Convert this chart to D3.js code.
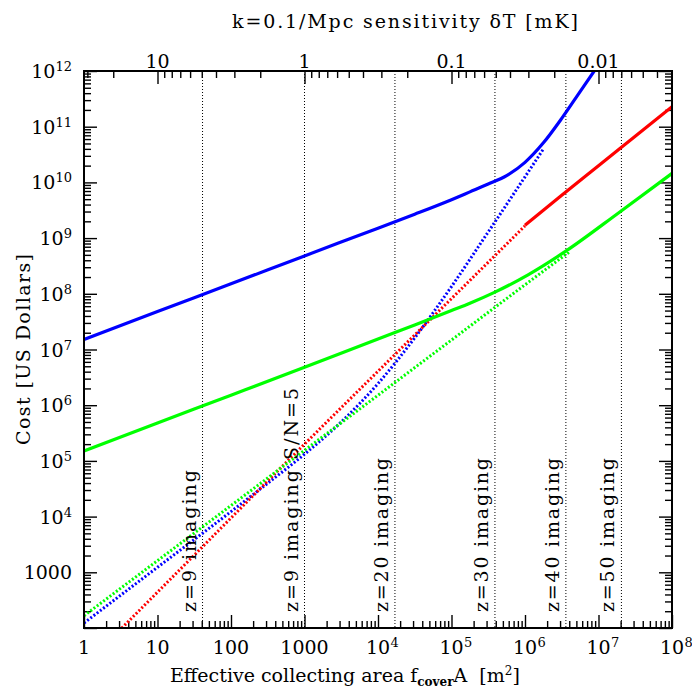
<!DOCTYPE html>
<html lang="en">
<head>
<meta charset="UTF-8">
<title>Cost vs collecting area</title>
<script src="https://cdnjs.cloudflare.com/ajax/libs/d3/7.8.5/d3.min.js"></script>
<style>
*{margin:0;padding:0}
body{background:#fff}
svg{display:block}
text{font-family:'DejaVu Serif',serif;fill:#000}
</style>
</head>
<body>
<div id="chart"></div>
<script>
// areas in m^2, costs in US dollars
const blueSolidArea = [1,10,100,1e3,1e4,3.16e4,1e5,1.78e5,3.16e5,5.62e5,1e6,1.78e6,3.16e6,5.62e6,1e7];
const blueSolidCost = [1.51e7,4.79e7,1.51e8,4.79e8,1.51e9,2.69e9,4.9e9,6.76e9,9.33e9,1.32e10,2.29e10,5.13e10,1.41e11,4.27e11,1.29e12];
const blueDotArea = [1,10,100,316,1e3,3162,1e4,3.16e4,1e5,3.16e5,1e6,1.78e6];
const blueDotCost = [123,1230,1.23e4,3.98e4,1.32e5,5.0e5,2.45e6,1.62e7,1.35e8,1.29e9,1.26e10,3.98e10];
const redDotArea = [2.5,10,1e3,1e4,1e5,1e6];
const redDotCost = [70,440,2.0e5,4.07e6,8.2e7,1.66e9];
const redSolidArea = [1e6,3.16e6,1e7,3.16e7,1e8];
const redSolidCost = [1.7e9,5.9e9,2.0e10,6.76e10,2.29e11];
const greenSolidArea = [1,10,100,1e3,1e4,3.16e4,1e5,1.78e5,3.9e5,1.1e6,3.63e6,1.95e7,1e8];
const greenSolidCost = [1.51e5,4.79e5,1.51e6,4.79e6,1.55e7,2.75e7,5.0e7,6.76e7,1.07e8,2.19e8,5.89e8,2.95e9,1.45e10];
const greenDotArea = [1,10,100,1e3,1e4,1e5,1e6,3.98e6];
const greenDotCost = [166,1620,1.58e4,1.55e5,1.51e6,1.48e7,1.45e8,5.6e8];

// vertical markers
const vlineArea = [41,1000,1.7e4,3.9e5,3.6e6,2.05e7];
const vlineLabel = ["z=9 imaging","z=9 imaging S/N=5","z=20 imaging","z=30 imaging","z=40 imaging","z=50 imaging"];

// tick values
const areaTicks = [1,10,100,1e3,1e4,1e5,1e6,1e7,1e8];
const costTicks = [1e2,1e3,1e4,1e5,1e6,1e7,1e8,1e9,1e10,1e11,1e12];
const sensTicks = [10,1,0.1,0.01];

const W=692,H=690,mg={l:84,r:20,t:71,b:62};
const svg=d3.select('#chart').append('svg').attr('width',W).attr('height',H);
const x=d3.scaleLog().domain([1,1e8]).range([mg.l,W-mg.r]);
const y=d3.scaleLog().domain([1e2,1e12]).range([H-mg.b,mg.t]);
const xs=d3.scaleLog().domain([Math.pow(10,1.5),Math.pow(10,-2.5)]).range([mg.l,W-mg.r]);
const pw=W-mg.l-mg.r,ph=H-mg.t-mg.b;

function minors(lo,hi){const out=[];for(let e=lo;e<hi;e++)for(let k=2;k<=9;k++)out.push(k*Math.pow(10,e));return out}
const xMinor=minors(0,8),yMinor=minors(2,12);
const sMinor=minors(-3,2).filter(v=>v<=Math.pow(10,1.5)&&v>=Math.pow(10,-2.5));

function tickAxis(ax,tr){const g=svg.append('g').attr('transform',tr).call(ax);g.select('.domain').remove();
g.selectAll('line').attr('stroke','#000').attr('stroke-width',1.4);g.selectAll('text').remove();return g}
const trB='translate(0,'+(H-mg.b)+')',trT='translate(0,'+mg.t+')',trL='translate('+mg.l+',0)',trR='translate('+(W-mg.r)+',0)';
tickAxis(d3.axisBottom(x).tickValues(areaTicks).tickSize(-13),trB);
tickAxis(d3.axisBottom(x).tickValues(xMinor).tickSize(-7),trB);
tickAxis(d3.axisTop(xs).tickValues(sensTicks).tickSize(-13),trT);
tickAxis(d3.axisTop(xs).tickValues(sMinor).tickSize(-7),trT);
tickAxis(d3.axisLeft(y).tickValues(costTicks).tickSize(-13),trL);
tickAxis(d3.axisLeft(y).tickValues(yMinor).tickSize(-7),trL);
tickAxis(d3.axisRight(y).tickValues(costTicks).tickSize(-13),trR);
tickAxis(d3.axisRight(y).tickValues(yMinor).tickSize(-7),trR);

// vertical dotted lines
svg.append('g').selectAll('line').data(vlineArea).join('line')
  .attr('x1',d=>x(d)).attr('x2',d=>x(d)).attr('y1',mg.t).attr('y2',H-mg.b)
  .attr('stroke','#000').attr('stroke-width',1).attr('stroke-dasharray','1,2');

svg.append('clipPath').attr('id','clip').append('rect').attr('x',mg.l).attr('y',mg.t).attr('width',pw).attr('height',ph);
const line=d3.line().x(d=>x(d[0])).y(d=>y(d[1])).curve(d3.curveMonotoneX);
const curves=[
  {a:blueDotArea,c:blueDotCost,col:'#0000ff',dot:true},
  {a:redDotArea,c:redDotCost,col:'#ff0000',dot:true},
  {a:greenDotArea,c:greenDotCost,col:'#00ff00',dot:true},
  {a:greenSolidArea,c:greenSolidCost,col:'#00ff00'},
  {a:redSolidArea,c:redSolidCost,col:'#ff0000'},
  {a:blueSolidArea,c:blueSolidCost,col:'#0000ff'}
];
const cg=svg.append('g').attr('clip-path','url(#clip)');
curves.forEach(s=>{
  cg.append('path').attr('d',line(s.a.map((v,i)=>[v,s.c[i]]))).attr('fill','none')
    .attr('stroke',s.col).attr('stroke-width',s.dot?3:3.2)
    .attr('stroke-dasharray',s.dot?'2,2':null);
});

// rotated labels beside the markers
const labLen=[142,224,154,154,154,154];
vlineArea.forEach((a,i)=>{
  svg.append('text').attr('transform','translate('+(x(a)-7)+','+612+') rotate(-90)')
    .attr('font-size',19).attr('textLength',labLen[i]).attr('lengthAdjust','spacing').text(vlineLabel[i]);
});

// frame
svg.append('rect').attr('x',mg.l).attr('y',mg.t).attr('width',pw).attr('height',ph)
  .attr('fill','none').attr('stroke','#000').attr('stroke-width',2);

// bottom tick labels
areaTicks.forEach(v=>{
  const e=Math.round(Math.log10(v));
  const t=svg.append('text').attr('x',x(v)).attr('y',654).attr('font-size',19).attr('text-anchor','middle');
  if(e<4){t.text(String(v));return}
  t.text('10');
  const w=t.node().getComputedTextLength();
  svg.append('text').attr('x',x(v)+w/2+0.5).attr('y',647).attr('font-size',13).text(e);
});
// left tick labels
costTicks.filter(v=>v>=1e3).forEach(v=>{
  const e=Math.round(Math.log10(v));
  const t=svg.append('text').attr('x',72).attr('y',y(v)+7).attr('font-size',19).attr('text-anchor','end');
  if(e<4){t.text(String(v));return}
  t.append('tspan').text('10');
  t.append('tspan').attr('dy',-7).attr('font-size',13).text(e);
});
// top tick labels
sensTicks.forEach(v=>{
  svg.append('text').attr('x',xs(v)).attr('y',68).attr('font-size',19).attr('text-anchor','middle').text(String(v));
});

// axis titles
svg.append('text').attr('x',405).attr('y',28).attr('font-size',19).attr('text-anchor','middle')
  .attr('textLength',346).attr('lengthAdjust','spacing').text('k=0.1/Mpc sensitivity \u03b4T [mK]');
svg.append('text').attr('transform','translate(30,349.5) rotate(-90)').attr('font-size',19).attr('text-anchor','middle')
  .attr('textLength',191).attr('lengthAdjust','spacing').text('Cost [US Dollars]');
const xt=svg.append('text').attr('x',170).attr('y',682).attr('font-size',19);
xt.append('tspan').text('Effective collecting area f');
xt.append('tspan').attr('dy',4).attr('font-size',12).attr('font-weight','bold').text('cover');
xt.append('tspan').attr('dy',-4).text('A');
xt.append('tspan').attr('dx',12).text('[m');
xt.append('tspan').attr('dy',-7).attr('font-size',12).text('2');
xt.append('tspan').attr('dy',7).text(']');
</script>
</body>
</html>
